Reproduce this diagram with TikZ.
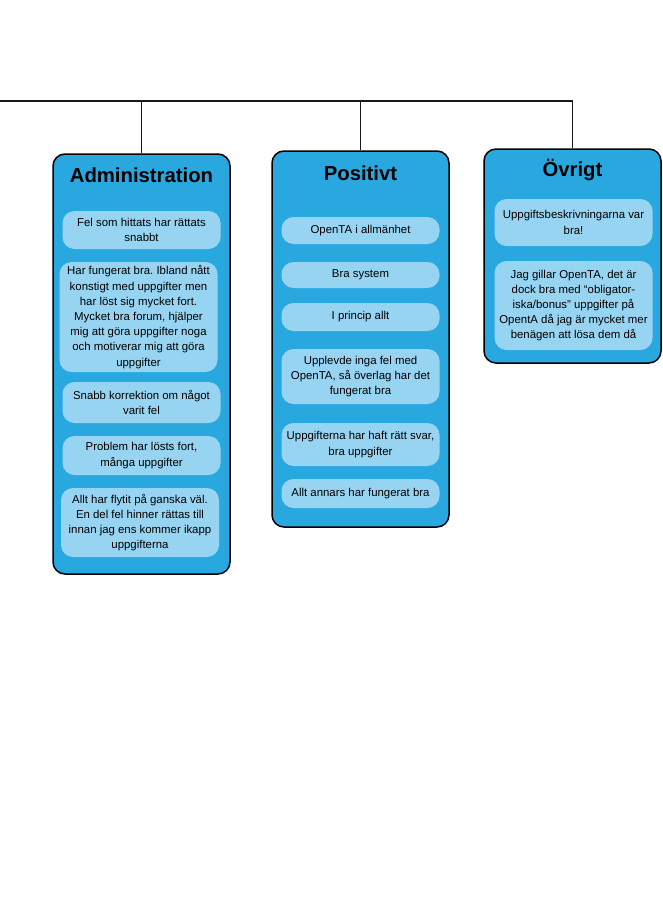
\documentclass[tikz,border=0pt]{standalone}
\usepackage{fontspec}
\setmainfont{Liberation Sans}
\frenchspacing
\usepackage{tikz}
\usetikzlibrary{shapes.geometric, arrows}
\definecolor{catblue}{HTML}{29A8E0}
\definecolor{notelight}{HTML}{97D4F2}
\tikzstyle{category} = [rectangle, rounded corners=12pt, minimum width=177pt, draw=black, line width=1.5pt, fill=catblue]
\tikzstyle{heading} = [font=\fontsize{20.3}{24}\selectfont\bfseries, text=black]
\tikzstyle{note} = [rectangle, rounded corners=12pt, minimum width=158pt, inner xsep=2pt, inner ysep=2pt, align=center, fill=notelight, font=\fontsize{11.4}{15.2}\selectfont]
\tikzstyle{line} = [line width=1.8pt, draw=black!90]

\begin{document}
\begin{tikzpicture}[x=1pt, y=-1pt, node distance=40pt]
  \useasboundingbox (0,0) rectangle (662,900);
  \coordinate (root) at (0,101);

  % outer boxes
  \node (adm) [category, minimum height=420pt] at (141.5,364) {};
  \node (pos) [category, minimum height=376pt] at (360.5,339) {};
  \node (ovr) [category, minimum height=214pt] at (572.5,256) {};

  \draw [line] (root) -| (ovr.north);
  \draw [line] (adm.north) -- (adm.north |- root);
  \draw [line] (pos.north) -- (pos.north |- root);

  % Administration
  \node (admtitle) [heading] at (141.5,175) {Administration};
  \node (a1) [note, minimum height=38pt, below of=admtitle, yshift=-15pt] {Fel som hittats har rättats\\snabbt};
  \node (a2) [note, minimum height=110pt, below of=a1, yshift=-47pt, xshift=-3pt] {Har fungerat bra. Ibland nått\\konstigt med uppgifter men\\har löst sig mycket fort.\\Mycket bra forum, hjälper\\mig att göra uppgifter noga\\och motiverar mig att göra\\uppgifter};
  \node (a3) [note, minimum height=41pt, below of=a2, yshift=-45.5pt, xshift=3pt] {Snabb korrektion om något\\varit fel};
  \node (a4) [note, minimum height=39pt, below of=a3, yshift=-13pt] {Problem har lösts fort,\\många uppgifter};
  \node (a5) [note, minimum height=69pt, below of=a4, yshift=-27pt, xshift=-1.5pt] {Allt har flytit på ganska väl.\\En del fel hinner rättas till\\innan jag ens kommer ikapp\\uppgifterna};

  % Positivt
  \node (postitle) [heading] at (360.5,173) {Positivt};
  \node (p1) [note, minimum height=27pt, below of=postitle, yshift=-17.5pt] {OpenTA i allmänhet};
  \node (p2) [note, minimum height=26pt, below of=p1, yshift=-4.5pt] {Bra system};
  \node (p3) [note, minimum height=28pt, below of=p2, yshift=-2pt] {I princip allt};
  \node (p4) [note, minimum height=55pt, below of=p3, yshift=-19.5pt] {Upplevde inga fel med\\OpenTA, så överlag har det\\fungerat bra};
  \node (p5) [note, minimum height=43pt, below of=p4, yshift=-28pt] {Uppgifterna har haft rätt svar,\\bra uppgifter};
  \node (p6) [note, minimum height=29pt, below of=p5, yshift=-9pt] {Allt annars har fungerat bra};

  % Övrigt
  \node (ovrtitle) [heading] at (572.5,170) {Övrigt};
  \node (o1) [note, minimum height=47pt, below of=ovrtitle, yshift=-12.5pt, xshift=1pt] {Uppgiftsbeskrivningarna var\\bra!};
  \node (o2) [note, minimum height=89pt, below of=o1, yshift=-43pt] {Jag gillar OpenTA, det är\\dock bra med “obligator-\\iska/bonus” uppgifter på\\OpentA då jag är mycket mer\\benägen att lösa dem då};
\end{tikzpicture}
\end{document}
